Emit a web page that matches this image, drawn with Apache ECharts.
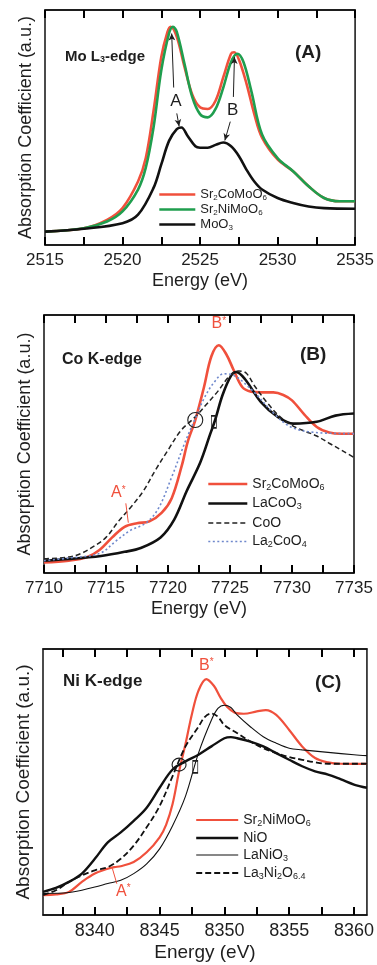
<!DOCTYPE html>
<html><head><meta charset="utf-8">
<script src="https://cdn.jsdelivr.net/npm/echarts@6/dist/echarts.min.js"></script>
<style>html,body{margin:0;padding:0;background:#fff}#c{width:377px;height:965px}</style>
</head><body><div id="c"></div>
<script>
// ---------- Panel A : Mo L3-edge ----------
const aTickLabels = [2515, 2520, 2525, 2530, 2535];
const aTicks = [2515, 2517.5, 2520, 2522.5, 2525, 2527.5, 2530, 2532.5, 2535];
const aRedE = [2515,2517.5,2519,2520,2521,2521.5,2522,2522.5,2522.9,2523.1,2523.5,2524,2524.5,2525,2525.5,2526,2526.5,2527,2527.2,2527.5,2528,2528.5,2529,2530,2531,2532,2533,2534,2535];
const aRedV = [5.7,7.1,10.7,15.7,27,37,57,80,90.7,92.9,88.6,75.7,64,58.6,57.9,61.4,71.4,81.4,82,79,68.6,55.7,45.7,36.4,31.4,25,20,18.6,18.6];
const aGreenE = [2515,2517.5,2519,2520,2521,2521.5,2522,2522.5,2523,2523.25,2523.5,2524,2524.5,2525,2525.5,2526,2526.5,2527,2527.4,2527.8,2528.3,2529,2530,2531,2532,2533,2534,2535];
const aGreenV = [5.7,7.1,10,14.3,23.6,32.9,50,74.3,90,92.9,90.7,77,62.9,55.7,54.3,57.9,67,77.9,81.4,77.9,65.7,47,37,31.4,25,20,18.6,18.6];
const aBlackE = [2515,2517.5,2520,2521,2522,2522.5,2523,2523.5,2523.8,2524.2,2524.7,2525,2525.5,2526,2526.5,2527,2527.5,2528,2528.5,2529,2530,2531,2532,2533,2535];
const aBlackV = [5.7,6.9,9.3,12.9,24.3,34.3,44.3,49.3,50,46.4,42,41.4,41.4,42.6,43.6,42,37.9,32,27,23.6,20,17.9,16.4,15.7,15.4];

// ---------- Panel B : Co K-edge ----------
const bTickLabels = [7710, 7715, 7720, 7725, 7730, 7735];
const bTicks = [7710, 7712.5, 7715, 7717.5, 7720, 7722.5, 7725, 7727.5, 7730, 7732.5, 7735];
const bRedE = [7710,7712,7713.5,7714.5,7715.5,7716.5,7717.5,7718.5,7719.5,7720.3,7721.1,7721.6,7722.2,7722.9,7723.5,7724.1,7724.7,7725.3,7726,7726.7,7727.5,7728.5,7729.3,7730,7731,7732,7733,7734,7735];
const bRedV = [4.1,4.8,6.2,9,13.8,17.9,19.3,20,23.4,29,41.4,51,59.3,72,84,88.3,84.8,78.6,72,70.3,70,70,69,66.9,61.4,56.6,54.5,54,54];
const bBlackE = [7710,7712,7714.6,7716.5,7717.8,7719.4,7720.5,7721.5,7722.6,7723.4,7723.8,7724.4,7725.1,7725.5,7726.2,7727.5,7728.8,7730.1,7732,7733.5,7735];
const bBlackV = [4.8,5.4,6.6,8.2,9.7,13.8,20.7,31.7,42.8,53.8,59.3,69,76.6,77.9,75.2,66.2,60.7,57.9,58.6,61,61.8];
const bDashE = [7710,7712,7713,7714,7715,7716,7717,7718,7719,7720,7721,7722,7722.5,7723,7724,7725,7725.7,7726.3,7727,7728,7729,7730,7731,7732,7733,7734,7735];
const bDashV = [5.5,6.2,7.6,10.3,13.8,20,25.5,31.7,40,47.6,55,59.6,62,64.8,70.3,76.5,78.3,77.5,72.4,66,60.7,57.2,55,53.1,50.3,47.6,44.8];
const bDotE = [7710,7712,7714.5,7715.8,7717,7718.2,7719.2,7720.3,7721.4,7722.2,7722.9,7723.7,7724.5,7725.3,7726.9,7728.5,7729.9,7731.8,7735];
const bDotV = [4.8,5.8,7.6,12.4,16.6,19.3,24.8,37.2,51,59.9,67.6,73.8,77.2,76.6,70.3,62,56.6,54.5,54];

// ---------- Panel C : Ni K-edge ----------
const cTickLabels = [8340, 8345, 8350, 8355, 8360];
const cTicks = [8337.5, 8340, 8342.5, 8345, 8347.5, 8350, 8352.5, 8355, 8357.5, 8360];
const cRedE = [8336,8337,8338,8339,8340,8341,8341.5,8342,8343,8344,8345,8345.5,8346,8346.5,8347,8347.5,8348,8348.6,8349.2,8349.7,8350.2,8350.8,8351.5,8352.5,8353.2,8354,8355,8356,8357,8358,8359,8361];
const cRedV = [8.6,8.9,10,14.3,17.9,20,20.7,21.1,22.9,27.1,33.6,39,48,62,74,87,97,102,99,94,90,87.5,87,88,88.6,86.5,80,72.9,67.9,66,65.4,65.3];
const cNioE = [8336,8337,8338,8339,8340,8341,8342,8343,8344,8345,8346,8347,8348,8349,8350,8350.5,8351,8352,8353,8354,8355,8356,8357,8358,8359,8360,8361];
const cNioV = [10,11.7,14.3,17.9,24.3,31.4,35.7,40.7,46.4,55,62.9,66.4,69.3,72.9,76.4,76.9,76.4,75,72.9,70,67.1,64.3,62.1,60.7,58.6,56.4,55];
const cLaNiE = [8336,8338,8340,8341,8342,8343,8344,8345,8346,8347,8348,8349,8349.5,8350,8350.5,8351,8352,8353,8354,8355,8356,8358,8360,8361];
const cLaNiV = [9.3,9.7,12.1,13.6,15,17.9,22.1,28.6,38.6,51.4,70,84.3,89.3,90.7,89.7,86.4,81.4,77.1,74.3,72.1,71.4,70.3,69.3,68.9];
const cDashE = [8336,8337,8338,8339,8340,8341,8342,8343,8344,8345,8346,8347,8348,8348.5,8349,8349.5,8350,8351,8352,8353,8354,8355,8356,8357,8358,8361];
const cDashV = [8.6,10.7,14.3,17.1,19.3,20.7,24.3,30,37.9,47.1,60,72.9,81.4,85.7,87.1,85.7,82.1,78.6,75,72.1,70,68.3,67.1,66,65.4,65.4];

// ---------- styling ----------
const FONT = 'Liberation Sans, Arial, Helvetica, sans-serif';
const INK = '#1e1e1e';
const RED = '#f0503c';
const GREEN = '#1f9e4e';
const BLUE = '#6f88cc';

const zip = (e, v) => e.map((x, i) => [x, v[i]]);

const legendNames = {
  aRed: '{n|Sr}{s|2}{n|CoMoO}{s|6}', aGreen: '{n|Sr}{s|2}{n|NiMoO}{s|6}', aBlack: '{n|MoO}{s|3}',
  bRed: '{n|Sr}{s|2}{n|CoMoO}{s|6}', bBlack: '{n|LaCoO}{s|3}', bDash: '{n|CoO}', bDot: '{n|La}{s|2}{n|CoO}{s|4}',
  cRed: '{n|Sr}{s|2}{n|NiMoO}{s|6}', cNio: '{n|NiO}', cLaNi: '{n|LaNiO}{s|3}', cDash: '{n|La}{s|3}{n|Ni}{s|2}{n|O}{s|6.4}'
};

function richFor(fs, lh) {
  return {
    n: {fontSize: fs, lineHeight: lh, color: INK, fontFamily: FONT},
    s: {fontSize: Math.round(fs * 0.62), lineHeight: 6, verticalAlign: 'bottom', color: INK, fontFamily: FONT}
  };
}

// two x axes per panel: bottom (labels + ticks) and top (mirrored ticks)
function xAxesFor(g, min, max, labels, ticks, fs, nameFs, nameGap) {
  const mk = (pos) => ({type: 'value', gridIndex: g, min: min, max: max, position: pos, z: 5,
    axisLine: {show: true, onZero: false, lineStyle: {color: '#111', width: 1.5}},
    splitLine: {show: false},
    axisTick: {show: true, inside: true, length: 8, customValues: ticks, lineStyle: {color: '#000', width: 2}}});
  return [
    Object.assign(mk('bottom'), {
      axisLabel: {customValues: labels, fontSize: fs, color: INK, fontFamily: FONT, margin: 7,
        formatter: (v) => String(v)},
      name: 'Energy (eV)', nameLocation: 'middle', nameGap: nameGap,
      nameTextStyle: {fontSize: nameFs, color: INK, fontFamily: FONT}}),
    Object.assign(mk('top'), {axisLabel: {show: false}})
  ];
}

function yAxisFor(g, max, fs) {
  return {type: 'value', gridIndex: g, min: 0, max: max,
    axisLine: {show: false}, axisTick: {show: false}, axisLabel: {show: false}, splitLine: {show: false},
    name: 'Absorption Coefficient (a.u.)', nameLocation: 'middle', nameGap: 10, nameRotate: 90,
    nameTextStyle: {fontSize: fs, color: INK, fontFamily: FONT}};
}

function line(id, xi, yi, e, v, color, width, type) {
  return {id: id, name: id, type: 'line', xAxisIndex: xi, yAxisIndex: yi, data: zip(e, v),
    symbol: 'none', smooth: 0.35, clip: true,
    lineStyle: {color: color, width: width, type: type || 'solid'}, itemStyle: {color: color},
    emphasis: {disabled: true}, silent: true};
}

const textMark = (coord, text, color, fs, rich) => ({coord: coord, symbol: 'circle', symbolSize: 1,
  itemStyle: {color: 'rgba(0,0,0,0)'},
  label: {show: true, position: 'inside', formatter: text, color: color, fontSize: fs, fontFamily: FONT, rich: rich}});
const starRich = {m: {fontSize: 16, color: RED, fontFamily: FONT}, p: {fontSize: 10, color: RED, verticalAlign: 'top', lineHeight: 10, fontFamily: FONT}};
const shapeMark = (coord, sym, size) => ({coord: coord, symbol: sym, symbolSize: size,
  itemStyle: {color: 'rgba(0,0,0,0)', borderColor: INK, borderWidth: 1.1}, label: {show: false}});

// series (x axis indices: A=0, B=2, C=4)
const sA = [
  line('aRed', 0, 0, aRedE, aRedV, RED, 2.6),
  line('aGreen', 0, 0, aGreenE, aGreenV, GREEN, 2.6),
  line('aBlack', 0, 0, aBlackE, aBlackV, '#111', 2.6)
];
sA[2].markLine = {silent: true, symbol: ['none', 'arrow'], symbolSize: [5, 7], label: {show: false},
  lineStyle: {color: INK, width: 1, type: 'solid'}, animation: false,
  data: [
    [{coord: [2523.3, 67]}, {coord: [2523.17, 90]}],
    [{coord: [2523.5, 56]}, {coord: [2523.65, 50.5]}],
    [{coord: [2527.15, 63]}, {coord: [2527.22, 80]}],
    [{coord: [2526.95, 52.5]}, {coord: [2526.6, 44.5]}]
  ]};
sA[2].markPoint = {silent: true, animation: false, data: [
  textMark([2523.45, 61], 'A', INK, 17),
  textMark([2527.1, 57.5], 'B', INK, 17)
]};

const sB = [
  line('bRed', 2, 1, bRedE, bRedV, RED, 2.6),
  line('bBlack', 2, 1, bBlackE, bBlackV, '#111', 2.6),
  line('bDash', 2, 1, bDashE, bDashV, '#222', 1.5, [5, 3]),
  line('bDot', 2, 1, bDotE, bDotV, BLUE, 1.6, [2, 2.5])
];
sB[0].markLine = {silent: true, symbol: ['none', 'none'], label: {show: false}, animation: false,
  lineStyle: {color: RED, width: 1, type: 'solid'},
  data: [[{coord: [7716.6, 27]}, {coord: [7716.8, 19.5]}]]};
sB[0].markPoint = {silent: true, animation: false, data: [
  textMark([7724.1, 96.5], '{m|B}{p|*}', RED, 16, starRich),
  textMark([7716.0, 31], '{m|A}{p|*}', RED, 16, starRich),
  shapeMark([7722.2, 59.3], 'circle', [15, 15]),
  shapeMark([7723.7, 58.6], 'rect', [5, 12])
]};

const sC = [
  line('cRed', 4, 2, cRedE, cRedV, RED, 2.2),
  line('cNio', 4, 2, cNioE, cNioV, '#111', 2.4),
  line('cLaNi', 4, 2, cLaNiE, cLaNiV, '#111', 1.1),
  line('cDash', 4, 2, cDashE, cDashV, '#111', 1.8, [6, 3])
];
sC[0].markLine = {silent: true, symbol: ['none', 'none'], label: {show: false}, animation: false,
  lineStyle: {color: RED, width: 1, type: 'solid'},
  data: [[{coord: [8341.7, 13.5]}, {coord: [8341.35, 20.2]}]]};
sC[0].markPoint = {silent: true, animation: false, data: [
  textMark([8348.6, 108], '{m|B}{p|*}', RED, 16, starRich),
  textMark([8342.2, 10.3], '{m|A}{p|*}', RED, 16, starRich),
  shapeMark([8346.5, 65], 'circle', [14, 13]),
  shapeMark([8347.75, 64], 'rect', [5, 12])
]};

// legend entries: series id, line colour, width, dash
function legendItems(list) {
  return list.map(([name, color, width, type]) => ({name: name,
    lineStyle: {color: color, width: width, type: type || 'solid'}}));
}

const legendCommon = (items, left, top, w, fs, lh, gap) => ({
  data: legendItems(items), orient: 'vertical', left: left, top: top, itemWidth: w, itemHeight: 10, itemGap: gap,
  padding: 0, selectedMode: false, formatter: (n) => legendNames[n],
  itemStyle: {opacity: 0}, textStyle: {color: INK, fontSize: fs, fontFamily: FONT, rich: richFor(fs, lh)}
});

const titleText = (left, top, parts, fs) => ({
  type: 'text', left: left, top: top, silent: true,
  style: {text: parts, fill: INK, font: 'bold ' + fs + 'px ' + FONT,
    rich: {b: {fontSize: fs, fontWeight: 'bold', fontFamily: FONT, fill: INK, color: INK},
           s: {fontSize: Math.round(fs * 0.62), fontWeight: 'bold', fontFamily: FONT, fill: INK, color: INK, verticalAlign: 'bottom', lineHeight: 6}}}
});

const option = {
  animation: false,
  grid: [
    {left: 45, top: 10, width: 313, height: 235, show: true, borderColor: '#111', borderWidth: 1.5, backgroundColor: 'rgba(0,0,0,0)'},
    {left: 44, top: 315, width: 310, height: 258, show: true, borderColor: '#111', borderWidth: 1.5, backgroundColor: 'rgba(0,0,0,0)'},
    {left: 43, top: 649, width: 324, height: 266, show: true, borderColor: '#111', borderWidth: 1.5, backgroundColor: 'rgba(0,0,0,0)'}
  ],
  xAxis: [].concat(
    xAxesFor(0, 2515, 2535, aTickLabels, aTicks, 17, 18, 27),
    xAxesFor(1, 7710, 7735, bTickLabels, bTicks, 17, 18, 27),
    xAxesFor(2, 8336, 8361, cTickLabels, cTicks, 18, 19, 28)
  ),
  yAxis: [yAxisFor(0, 100, 18), yAxisFor(1, 100, 18), yAxisFor(2, 115, 19)],
  legend: [
    legendCommon([['aRed', RED, 2.6], ['aGreen', GREEN, 2.6], ['aBlack', '#111', 2.6]], 158, 188, 36, 13, 14, 1.5),
    legendCommon([['bRed', RED, 2.6], ['bBlack', '#111', 2.6], ['bDash', '#222', 1.5, [5, 3]], ['bDot', BLUE, 1.6, [2, 2.5]]], 207, 477, 39, 14, 16, 4.5),
    legendCommon([['cRed', RED, 2.2], ['cNio', '#111', 2.4], ['cLaNi', '#111', 1.1], ['cDash', '#111', 1.8, [6, 3]]], 195, 813, 42, 14, 16, 3)
  ],
  graphic: [
    titleText(65, 49, '{b|Mo L}{s|3}{b|-edge}', 15),
    titleText(295, 43, '{b|(A)}', 19),
    titleText(62, 352, '{b|Co K-edge}', 16),
    titleText(300, 345, '{b|(B)}', 19),
    titleText(63, 673, '{b|Ni K-edge}', 17),
    titleText(315, 673, '{b|(C)}', 19)
  ],
  series: [].concat(sA, sB, sC)
};

const chart = echarts.init(document.getElementById('c'), null, {renderer: 'canvas'});
chart.setOption(option);
</script>
</body></html>
